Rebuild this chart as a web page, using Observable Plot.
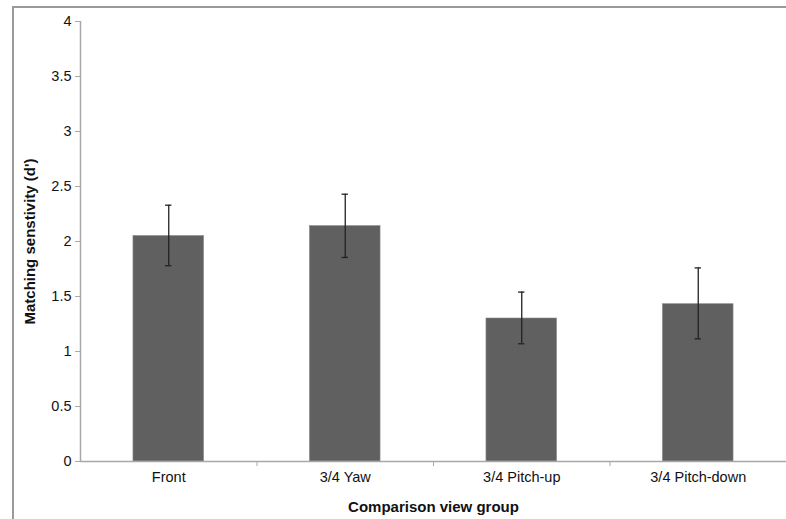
<!DOCTYPE html>
<html>
<head>
<meta charset="utf-8">
<script src="https://cdn.jsdelivr.net/npm/d3@7"></script>
<script src="https://cdn.jsdelivr.net/npm/@observablehq/plot@0.6"></script>
<style>
  html, body { margin: 0; padding: 0; background: #fff; }
  #wrap { position: relative; width: 786px; height: 519px; overflow: hidden; }
  #frame { position: absolute; left: 12px; top: 6px; width: 790px; height: 530px;
           border-left: 2px solid #9a9a9a; border-top: 2px solid #9a9a9a; pointer-events: none; }
  #chart { position: absolute; left: 0; top: 0; }
</style>
</head>
<body>
<div id="wrap"><div id="chart"></div><div id="frame"></div></div>
<script>
const categories = ["Front", "3/4 Yaw", "3/4 Pitch-up", "3/4 Pitch-down"];
const means = [2.05, 2.14, 1.30, 1.43];
const errLow = [1.78, 1.855, 1.07, 1.115];
const errHigh = [2.33, 2.43, 1.54, 1.76];
const yTicks = [0, 0.5, 1, 1.5, 2, 2.5, 3, 3.5, 4];

const data = categories.map((c, i) => ({
  cat: c, i, mean: means[i], lo: errLow[i], hi: errHigh[i]
}));

const font = "'Liberation Sans', Arial, sans-serif";

const chart = Plot.plot({
  width: 786,
  height: 519,
  marginLeft: 80,
  marginRight: 0,
  marginTop: 21,
  marginBottom: 58,
  style: { fontFamily: font, fontSize: "14.5px", color: "#111", background: "transparent" },
  x: { domain: [0, categories.length], axis: null },
  y: { domain: [0, 4], axis: null },
  marks: [
    Plot.rectY(data, { x1: d => d.i + 0.3, x2: d => d.i + 0.7, y1: 0, y2: "mean",
      fill: "#606060", stroke: "#8a8a8a", strokeWidth: 0.6 }),
    Plot.ruleX(data, { x: d => d.i + 0.5, y1: "lo", y2: "hi", stroke: "#222", strokeWidth: 1.3 }),
    Plot.ruleY(data, { y: "lo", x1: d => d.i + 0.5 - 0.018, x2: d => d.i + 0.5 + 0.018, stroke: "#222", strokeWidth: 1.3 }),
    Plot.ruleY(data, { y: "hi", x1: d => d.i + 0.5 - 0.018, x2: d => d.i + 0.5 + 0.018, stroke: "#222", strokeWidth: 1.3 }),
    Plot.ruleY([0], { stroke: "#a8a8a8", strokeWidth: 1.5 }),
    Plot.ruleX([0], { stroke: "#a8a8a8", strokeWidth: 1.5 }),
    Plot.axisY({ ticks: yTicks, tickSize: 5, tickPadding: 4, stroke: "#a8a8a8",
      tickFormat: d => String(d),
      label: "Matching senstivity (d')", labelAnchor: "center", labelArrow: "none", labelOffset: 56 }),
    Plot.axisX({ ticks: d3.range(1, categories.length), tickSize: 5, stroke: "#a8a8a8", tickFormat: () => "", label: null }),
    Plot.axisX({ ticks: categories.map((c, i) => i + 0.5), tickSize: 0, tickPadding: 10,
      tickFormat: v => categories[Math.floor(v)],
      label: "Comparison view group", labelAnchor: "center", labelArrow: "none", labelOffset: 50 })
  ]
});

d3.select(chart).selectAll("text").style("font-size", "14.5px").style("fill", "#111");
d3.select(chart).selectAll("[aria-label='y-axis label'] text, [aria-label='x-axis label'] text")
  .style("font-weight", "bold").style("font-size", "15px");

document.getElementById("chart").appendChild(chart);
</script>
</body>
</html>
